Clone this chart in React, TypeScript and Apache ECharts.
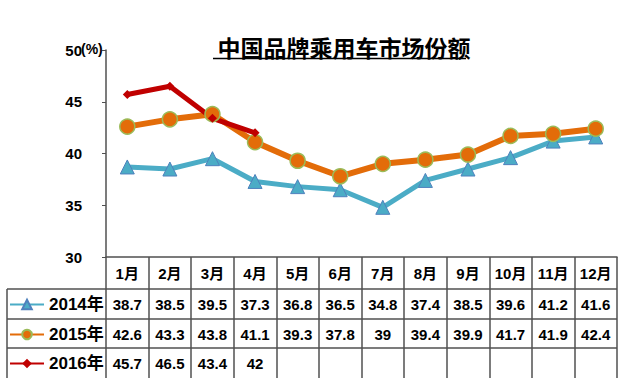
import React, { useEffect, useRef } from "react";
import * as echarts from "echarts";

const months = ["1月", "2月", "3月", "4月", "5月", "6月", "7月", "8月", "9月", "10月", "11月", "12月"];
const seriesNames = ["2014年", "2015年", "2016年"];
const s2014 = [38.7, 38.5, 39.5, 37.3, 36.8, 36.5, 34.8, 37.4, 38.5, 39.6, 41.2, 41.6];
const s2015 = [42.6, 43.3, 43.8, 41.1, 39.3, 37.8, 39, 39.4, 39.9, 41.7, 41.9, 42.4];
const s2016 = [45.7, 46.5, 43.4, 42];
const yTicks = [30, 35, 40, 45, 50];
const titleText = "中国品牌乘用车市场份额";
const unitText = "(%)";

const W = 640;
const H = 389;
const GL = 106;
const GR = 617;
const GT = 50;
const GB = 257;
const ROW = [289, 319, 348, 378];
const LEGEND_LEFT = 7;
const LINE_COLOR = "#505050";
const FONT = "'Liberation Sans', 'Noto Sans CJK SC', sans-serif";

export default function App() {
  const ref = useRef<HTMLDivElement>(null);
  useEffect(() => {
    document.body.style.margin = "0";
    const chart = echarts.init(ref.current!, null, { renderer: "svg" });
    const pad = (arr: number[]) => months.map((_, i) => (i < arr.length ? String(arr[i]) : ""));
    const valueRows = [pad(s2014), pad(s2015), pad(s2016)];
    const rowMargins = [40, 70, 99];
    const labelStyle = { fontSize: 15, fontWeight: "bold" as const, color: "#000", fontFamily: FONT };

    const xAxes: any[] = [
      {
        type: "category",
        data: months,
        boundaryGap: true,
        axisLine: { show: true, lineStyle: { color: LINE_COLOR, width: 1.5 } },
        axisTick: { show: true, length: ROW[3] - GB, alignWithLabel: false, lineStyle: { color: LINE_COLOR, width: 1.5 } },
        axisLabel: { ...labelStyle, margin: 9, interval: 0 },
      },
      ...valueRows.map((row, k) => ({
        type: "category",
        data: row,
        position: "bottom",
        boundaryGap: true,
        axisLine: { show: false },
        axisTick: { show: false },
        axisLabel: { ...labelStyle, margin: rowMargins[k], interval: 0 },
      })),
    ];

    const hLines = ROW.slice(0, 3).map((y) => ({
      type: "line",
      shape: { x1: LEGEND_LEFT, y1: y, x2: GR, y2: y },
      style: { stroke: LINE_COLOR, lineWidth: 1.5 },
    }));

    const legendTops = [296, 326, 355];
    const legendTextStyle = { fontSize: 17, fontWeight: "bold" as const, color: "#000", fontFamily: FONT };

    chart.setOption({
      animation: false,
      title: {
        text: titleText,
        left: 339,
        top: 30,
        textAlign: "center",
        textStyle: { fontSize: 23, fontWeight: "bold", color: "#000", fontFamily: "'Noto Sans CJK SC', sans-serif" },
      },
      grid: { left: GL, right: W - GR, top: GT, bottom: H - GB, containLabel: false },
      legend: seriesNames.map((n, i) => ({
        data: [n],
        left: LEGEND_LEFT + 2,
        top: legendTops[i],
        itemWidth: 34,
        itemHeight: 12,
        textStyle: legendTextStyle,
        itemGap: 2,
        padding: 0,
      })),
      xAxis: xAxes,
      yAxis: {
        type: "value",
        min: 30,
        max: 50,
        interval: 5,
        axisLine: { show: true, lineStyle: { color: LINE_COLOR, width: 1.5 } },
        axisTick: { show: true, length: 4, lineStyle: { color: LINE_COLOR } },
        splitLine: { show: false },
        axisLabel: {
          ...labelStyle,
          margin: 24,
          formatter: (v: number) => (yTicks.includes(v) ? String(v) : ""),
        },
      },
      graphic: [
        ...hLines,
        {
          type: "line",
          shape: { x1: LEGEND_LEFT, y1: ROW[0], x2: LEGEND_LEFT, y2: ROW[3] },
          style: { stroke: LINE_COLOR, lineWidth: 1.5 },
        },
        {
          type: "line",
          shape: { x1: 213, y1: 58.5, x2: 466, y2: 58.5 },
          style: { stroke: "#000", lineWidth: 1.5 },
        },
        {
          type: "text",
          x: 81,
          y: 42,
          style: { text: unitText, fontSize: 14, fontWeight: "bold", fill: "#000", fontFamily: FONT },
        },
      ],
      series: [
        {
          name: seriesNames[0],
          type: "line",
          data: s2014,
          symbol: "triangle",
          symbolSize: 14,
          lineStyle: { color: "#4BACC6", width: 5 },
          itemStyle: { color: "#4BACC6", borderColor: "#4F81BD", borderWidth: 1 },
        },
        {
          name: seriesNames[1],
          type: "line",
          data: s2015,
          symbol: "circle",
          symbolSize: 15,
          lineStyle: { color: "#E36C09", width: 6 },
          itemStyle: { color: "#E36C09", borderColor: "#9BBB59", borderWidth: 1.5 },
        },
        {
          name: seriesNames[2],
          type: "line",
          data: s2016,
          symbol: "diamond",
          symbolSize: 9,
          lineStyle: { color: "#C00000", width: 5 },
          itemStyle: { color: "#C00000" },
        },
      ],
    });
    return () => chart.dispose();
  }, []);
  return <div ref={ref} style={{ width: W, height: H }} />;
}
